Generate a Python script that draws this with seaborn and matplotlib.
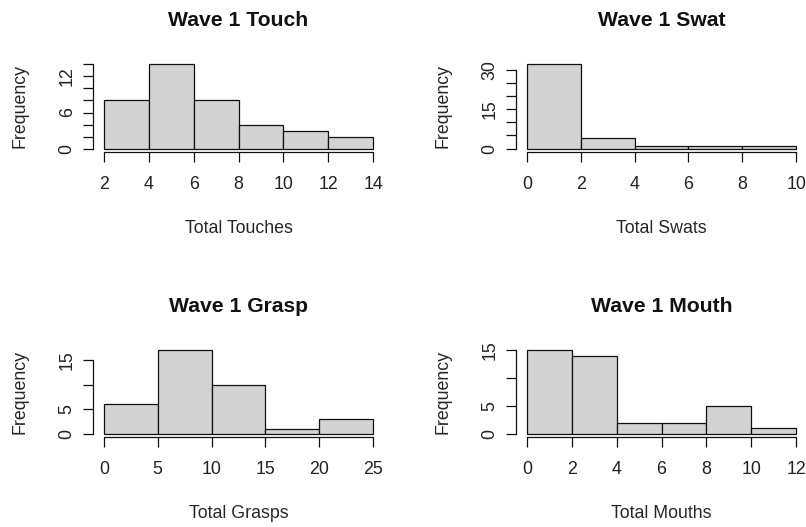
import numpy as np
import pandas as pd
import matplotlib
matplotlib.use("Agg")
import matplotlib.pyplot as plt
import seaborn as sns

# ---- data ----
touch_edges = [2, 4, 6, 8, 10, 12, 14]
touch_counts = [8, 14, 8, 4, 3, 2]
swat_edges = [0, 2, 4, 6, 8, 10]
swat_counts = [32, 4, 1, 1, 1]
grasp_edges = [0, 5, 10, 15, 20, 25]
grasp_counts = [6, 17, 10, 1, 3]
mouth_edges = [0, 2, 4, 6, 8, 10, 12]
mouth_counts = [15, 14, 2, 2, 5, 1]

titles = ["Wave 1 Touch", "Wave 1 Swat", "Wave 1 Grasp", "Wave 1 Mouth"]
xlabels = ["Total Touches", "Total Swats", "Total Grasps", "Total Mouths"]

touch_yticks = [0, 2, 4, 6, 8, 10, 12, 14]
touch_ylabels = ["0", "", "", "6", "", "", "12", ""]
swat_yticks = [0, 5, 10, 15, 20, 25, 30]
swat_ylabels = ["0", "", "", "15", "", "", "30"]
grasp_yticks = [0, 5, 10, 15]
grasp_ylabels = ["0", "5", "", "15"]
mouth_yticks = [0, 5, 10, 15]
mouth_ylabels = ["0", "5", "", "15"]

sns.set_style("white")
plt.rcParams["font.family"] = ["Liberation Sans", "DejaVu Sans"]
plt.rcParams["text.color"] = "#222222"

W, H = 806, 527
fig = plt.figure(figsize=(W / 100, H / 100), dpi=100)

# axes rectangles in pixels: (left, top, right, bottom)
rects = [(93, 61, 384, 152), (516, 61, 807, 152),
         (93, 347, 384, 437), (516, 347, 807, 437)]

panels = [
    (touch_edges, touch_counts, touch_yticks, touch_ylabels),
    (swat_edges, swat_counts, swat_yticks, swat_ylabels),
    (grasp_edges, grasp_counts, grasp_yticks, grasp_ylabels),
    (mouth_edges, mouth_counts, mouth_yticks, mouth_ylabels),
]

for i, ((edges, counts, yt, yl), (l, t, r, b)) in enumerate(zip(panels, rects)):
    ax = fig.add_axes([l / W, 1 - b / H, (r - l) / W, (b - t) / H])
    e = np.array(edges, dtype=float)
    centers = (e[:-1] + e[1:]) / 2
    df = pd.DataFrame({"x": centers, "w": np.array(counts, dtype=float)})
    sns.histplot(data=df, x="x", weights="w", bins=[float(v) for v in edges],
                 ax=ax, color="#D3D3D3", edgecolor="#111111", linewidth=0.9,
                 alpha=1, stat="count")
    xr = e[-1] - e[0]
    ax.set_xlim(e[0] - 0.04 * xr, e[-1] + 0.04 * xr)
    ymax = max(counts)
    ax.set_ylim(-0.04 * ymax, ymax * 1.04)
    for s in ["top", "right"]:
        ax.spines[s].set_visible(False)
    ax.spines["left"].set_bounds(yt[0], yt[-1])
    ax.spines["bottom"].set_bounds(e[0], e[-1])
    for s in ["left", "bottom"]:
        ax.spines[s].set_color("#111111")
        ax.spines[s].set_linewidth(0.9)
    ax.set_xticks(edges)
    ax.set_xticklabels([f"{int(v)}" for v in edges])
    ax.set_yticks(yt)
    ax.set_yticklabels(yl, rotation=90, va="center")
    ax.tick_params(axis="both", direction="out", length=7.5, width=0.9,
                   color="#111111", labelsize=12.8, labelcolor="#222222",
                   left=True, bottom=True)
    ax.tick_params(axis="x", pad=9.5)
    ax.tick_params(axis="y", pad=5)
    ax.set_title(titles[i], fontsize=15.2, fontweight="bold", pad=25,
                 color="#111111")
    ax.set_xlabel(xlabels[i], fontsize=12.8)
    ax.set_ylabel("Frequency", fontsize=12.8)
    ax.xaxis.set_label_coords(0.5, -0.75)
    ax.yaxis.set_label_coords(-0.22, 0.5)
    ax.grid(False)

fig.savefig("out.png", dpi=100)
